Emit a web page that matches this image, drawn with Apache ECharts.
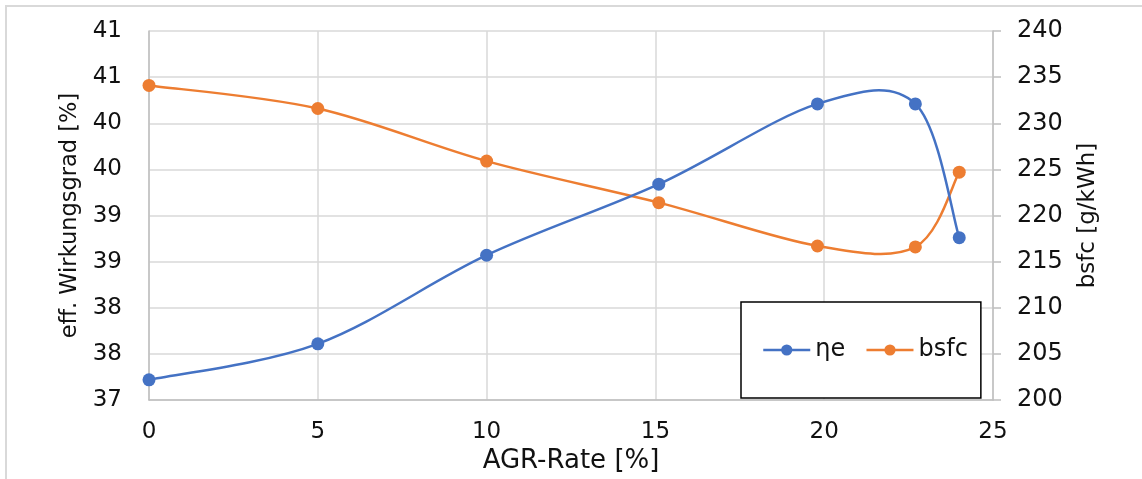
<!DOCTYPE html>
<html>
<head>
<meta charset="utf-8">
<script src="https://cdn.jsdelivr.net/npm/echarts@6/dist/echarts.min.js"></script>
<style>
html,body{margin:0;padding:0;background:#fff;}
#chart{width:1142px;height:479px;}
</style>
</head>
<body>
<div id="chart"></div>
<script>
// AGR-Rate [%]
const agrRate = [0, 5, 10, 15.1, 19.8, 22.7, 24];
// effective efficiency ηe [%]
const etaValues = [37.22, 37.61, 38.57, 39.34, 40.21, 40.21, 38.76];
// bsfc [g/kWh]
const bsfcValues = [234.1, 231.6, 225.9, 221.4, 216.7, 216.6, 224.7];
// left axis tick labels (as displayed, rounded), from 37 to 41 by 0.5
const etaTickLabels = ['37', '38', '38', '39', '39', '40', '40', '41', '41'];
const xTickLabels = ['0', '5', '10', '15', '20', '25'];
const bsfcTickLabels = ['200', '205', '210', '215', '220', '225', '230', '235', '240'];

const FONT = 'DejaVu Sans';
const TXT = '#111111';
const GRID = '#d9d9d9';
const AXIS = '#bfbfbf';
const BLUE = '#4472C4';
const ORANGE = '#ED7D31';

// Excel-style smoothed curve (Catmull-Rom Bezier) drawn in pixel space via the axes
function smoothRenderer(xs, ys, color) {
  return function (params, api) {
    if (params.dataIndex !== 0) return null;
    const p = xs.map((x, i) => api.coord([x, ys[i]]));
    const n = p.length;
    let d = 'M' + p[0][0] + ' ' + p[0][1];
    for (let i = 0; i < n - 1; i++) {
      const p0 = p[Math.max(i - 1, 0)];
      const p1 = p[i];
      const p2 = p[i + 1];
      const p3 = p[Math.min(i + 2, n - 1)];
      const c1 = [p1[0] + (p2[0] - p0[0]) / 6, p1[1] + (p2[1] - p0[1]) / 6];
      const c2 = [p2[0] - (p3[0] - p1[0]) / 6, p2[1] - (p3[1] - p1[1]) / 6];
      d += ' C' + c1[0] + ' ' + c1[1] + ' ' + c2[0] + ' ' + c2[1] + ' ' + p2[0] + ' ' + p2[1];
    }
    return {
      type: 'path',
      shape: { pathData: d },
      style: { fill: 'none', stroke: color, lineWidth: 2.5, lineCap: 'round', lineJoin: 'round' }
    };
  };
}

const chart = echarts.init(document.getElementById('chart'));
chart.setOption({
  animation: false,
  backgroundColor: '#ffffff',
  graphic: [{
    type: 'rect',
    shape: { x: 6, y: 6, width: 1150, height: 490 },
    style: { fill: 'none', stroke: '#d9d9d9', lineWidth: 2 },
    z: -1
  }],
  grid: { left: 149, right: 149, top: 31, bottom: 76, containLabel: false },
  legend: {
    left: 741, top: 302,
    orient: 'horizontal',
    padding: [36, 13, 36, 21],
    itemGap: 20,
    itemWidth: 47, itemHeight: 14,
    borderColor: '#000000', borderWidth: 1.5,
    backgroundColor: '#ffffff',
    textStyle: { fontFamily: FONT, fontSize: 24, color: TXT },
    data: [
      { name: 'ηe', lineStyle: { color: BLUE, width: 2.5, opacity: 1 }, itemStyle: { color: BLUE } },
      { name: 'bsfc', lineStyle: { color: ORANGE, width: 2.5, opacity: 1 }, itemStyle: { color: ORANGE } }
    ]
  },
  xAxis: {
    type: 'value', min: 0, max: 25, interval: 5,
    name: 'AGR-Rate [%]', nameLocation: 'middle', nameGap: 47,
    nameTextStyle: { fontFamily: FONT, fontSize: 26, color: TXT },
    axisLine: { show: true, lineStyle: { color: AXIS, width: 1.5 } },
    axisTick: { show: false },
    axisLabel: {
      fontFamily: FONT, fontSize: 23, color: TXT, margin: 20,
      formatter: v => xTickLabels[Math.round(v / 5)]
    },
    splitLine: { show: true, lineStyle: { color: GRID, width: 1.5 } }
  },
  yAxis: [{
    type: 'value', position: 'left', min: 37, max: 41, interval: 0.5,
    name: 'eff. Wirkungsgrad [%]', nameLocation: 'middle', nameGap: 65, nameRotate: 90,
    nameTextStyle: { fontFamily: FONT, fontSize: 22.5, color: TXT },
    axisLine: { show: true, lineStyle: { color: AXIS, width: 1.5 } },
    axisTick: { show: false },
    axisLabel: {
      fontFamily: FONT, fontSize: 23, color: TXT, margin: 27,
      formatter: v => etaTickLabels[Math.round((v - 37) / 0.5)]
    },
    splitLine: { show: true, lineStyle: { color: GRID, width: 1.5 } }
  }, {
    type: 'value', position: 'right', min: 200, max: 240, interval: 5,
    name: 'bsfc [g/kWh]', nameLocation: 'middle', nameGap: 84, nameRotate: 90,
    nameTextStyle: { fontFamily: FONT, fontSize: 23, color: TXT },
    axisLine: { show: true, lineStyle: { color: AXIS, width: 1.5 } },
    axisTick: { show: true, inside: false, length: 8, lineStyle: { color: AXIS, width: 1.5 } },
    axisLabel: {
      fontFamily: FONT, fontSize: 24, color: TXT, margin: 24,
      formatter: v => bsfcTickLabels[Math.round((v - 200) / 5)]
    },
    splitLine: { show: false }
  }],
  series: [{
    name: 'ηe-curve', type: 'custom', yAxisIndex: 0,
    data: agrRate.map((x, i) => [x, etaValues[i]]),
    renderItem: smoothRenderer(agrRate, etaValues, BLUE),
    silent: true, z: 2
  }, {
    name: 'bsfc-curve', type: 'custom', yAxisIndex: 1,
    data: agrRate.map((x, i) => [x, bsfcValues[i]]),
    renderItem: smoothRenderer(agrRate, bsfcValues, ORANGE),
    silent: true, z: 1
  }, {
    name: 'ηe', type: 'line', yAxisIndex: 0,
    data: agrRate.map((x, i) => [x, etaValues[i]]),
    symbol: 'circle', symbolSize: 13,
    lineStyle: { color: BLUE, width: 2.5, opacity: 0 },
    itemStyle: { color: BLUE },
    z: 4
  }, {
    name: 'bsfc', type: 'line', yAxisIndex: 1,
    data: agrRate.map((x, i) => [x, bsfcValues[i]]),
    symbol: 'circle', symbolSize: 13,
    lineStyle: { color: ORANGE, width: 2.5, opacity: 0 },
    itemStyle: { color: ORANGE },
    z: 3
  }]
});
</script>
</body>
</html>
